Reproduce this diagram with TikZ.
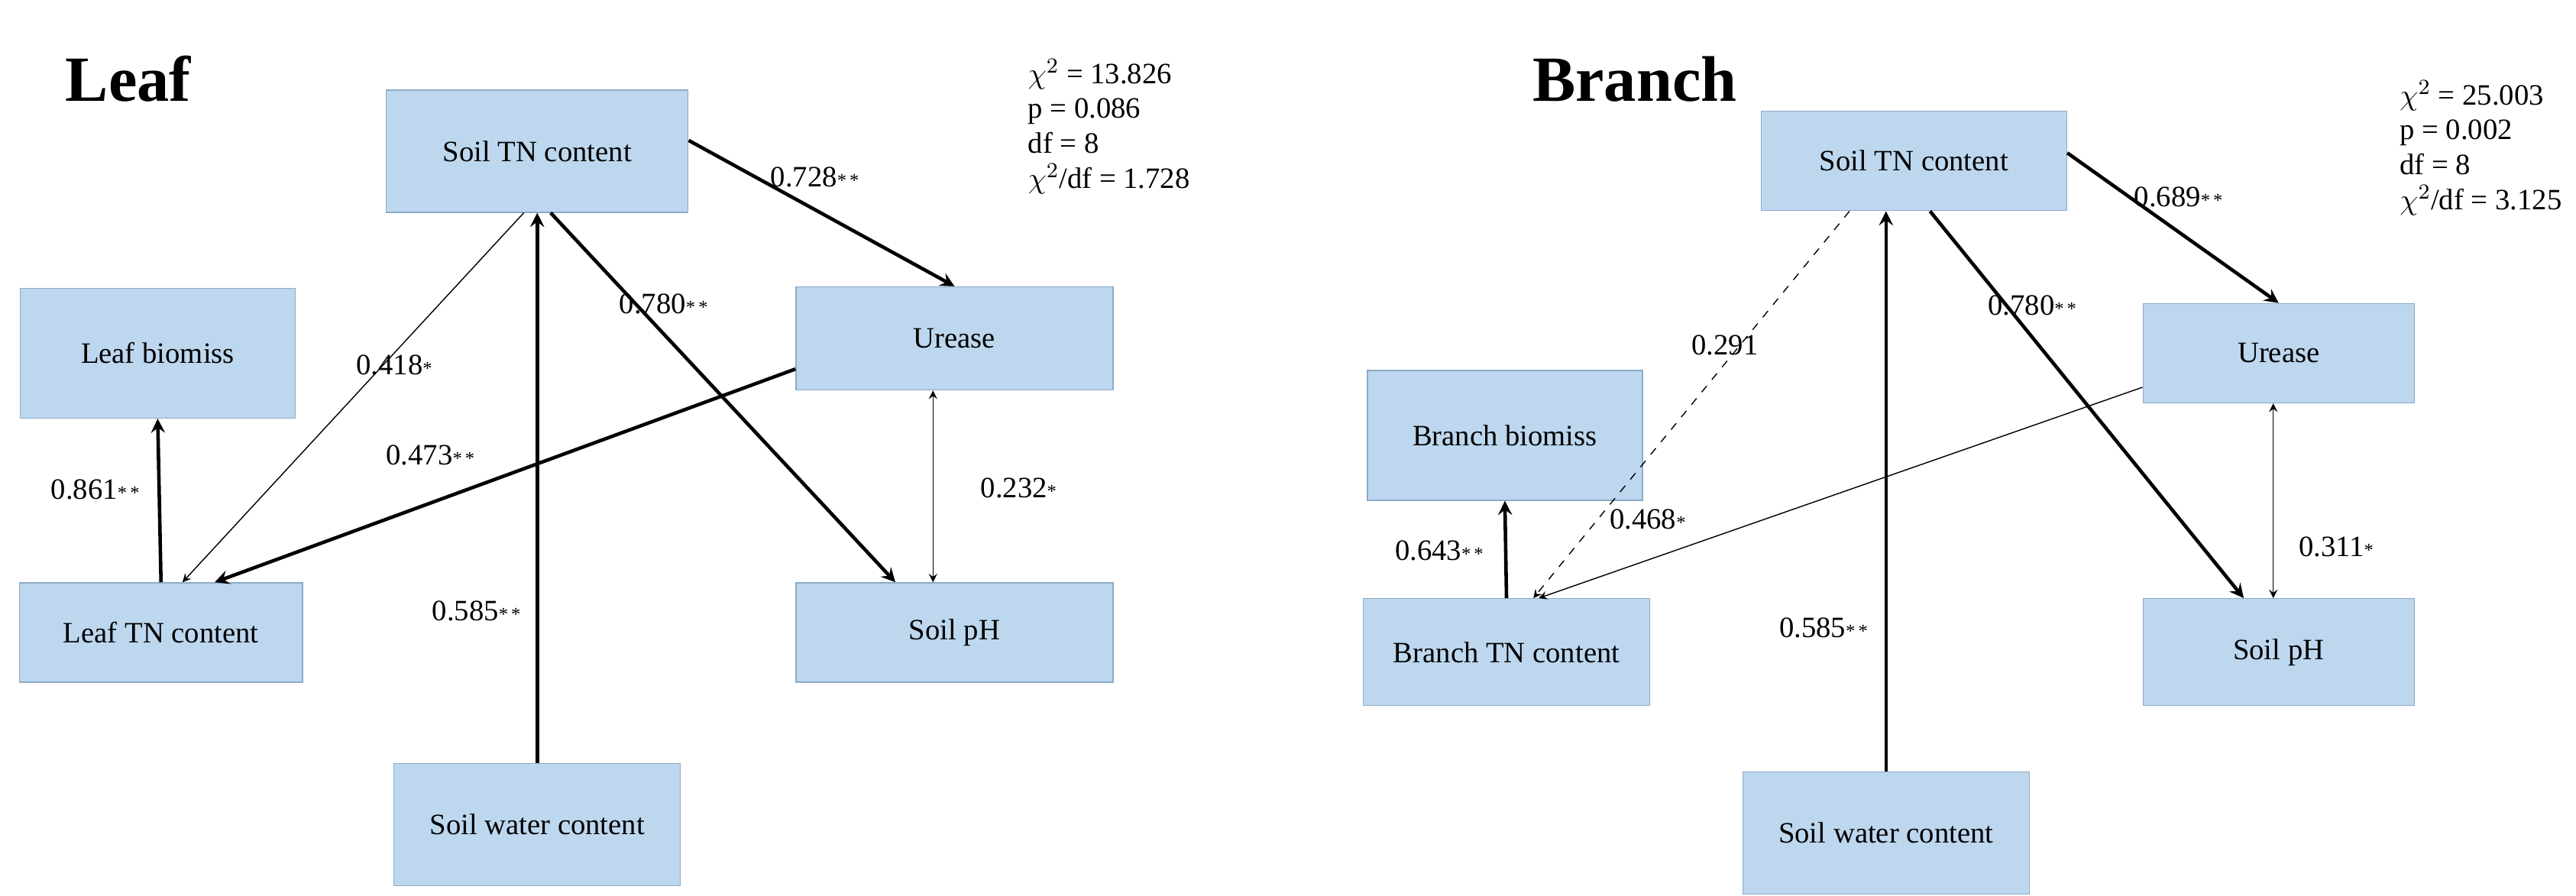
\documentclass[tikz,border=0pt]{standalone}
\usepackage{fontspec}
\setmainfont{Liberation Serif}
\usepackage{tikz}
\definecolor{boxfill}{RGB}{189,215,238}
\definecolor{boxline}{RGB}{140,170,200}
\tikzset{
  box/.style={shape=rectangle, fill=boxfill, draw=boxline, inner sep=0pt, font=\fontsize{11}{13}\selectfont},
  lab/.style={font=\fontsize{11}{13}\selectfont},
  strong/.style={line width=1.3pt, -stealth},
  weak/.style={line width=0.4pt, -stealth},
}
\newcommand{\st}{{\scriptsize*\,*}}
\newcommand{\so}{{\scriptsize*}}
\begin{document}
\begin{tikzpicture}[x=0.0215cm, y=-0.0215cm]
    \useasboundingbox (0,0) rectangle (1568,545);

    % Leaf
    \node[font=\bfseries\fontsize{24}{28}\selectfont] (LT) at (78,48) {Leaf};
    \node[box, minimum width=3.95cm, minimum height=1.6cm] (L1) at (327,92) {Soil TN content};
    \node[box, minimum width=3.6cm, minimum height=1.7cm] (L2) at (96,215) {Leaf biomiss};
    \node[box, minimum width=4.15cm, minimum height=1.35cm] (L3) at (581,206) {Urease};
    \node[box, minimum width=3.7cm, minimum height=1.3cm] (L4) at (98,385) {Leaf TN content};
    \node[box, minimum width=4.15cm, minimum height=1.3cm] (L5) at (581,385) {Soil pH};
    \node[box, minimum width=3.75cm, minimum height=1.6cm] (L6) at (327,502) {Soil water content};
    \node[lab, align=left, anchor=north west] (LS) at (620,30) {$\chi^2$ = 13.826\\p = 0.086\\df = 8\\$\chi^2$/df = 1.728};

    \draw[strong] ([yshift=4]L1.east) -- (L3.north);
    \draw[strong] ([xshift=5]L1.south) -- ([xshift=-22]L5.north);
    \draw[weak] ([xshift=-5]L1.south) -- ([xshift=8]L4.north);
    \draw[strong] (L6.north) -- (L1.south);
    \draw[strong] ([yshift=8]L3.south west) -- ([xshift=20]L4.north);
    \draw[strong] (L4.north) -- (L2.south);
    \draw[weak, stealth-stealth] ([xshift=-8]L3.south) -- ([xshift=-8]L5.north);

    \node[lab] (LA) at (496,108) {0.728\st};
    \node[lab] (LB) at (404,185) {0.780\st};
    \node[lab] (LC) at (240,222) {0.418\so};
    \node[lab] (LD) at (290,372) {0.585\st};
    \node[lab] (LE) at (262,277) {0.473\st};
    \node[lab] (LF) at (58,298) {0.861\st};
    \node[lab] (LG) at (620,297) {0.232\so};

    % Branch
    \node[font=\bfseries\fontsize{24}{28}\selectfont] (BT) at (995,48) {Branch};
    \node[box, minimum width=4cm, minimum height=1.3cm] (B1) at (1165,98) {Soil TN content};
    \node[box, minimum width=3.6cm, minimum height=1.7cm] (B2) at (916,265) {Branch biomiss};
    \node[box, minimum width=3.55cm, minimum height=1.3cm] (B3) at (1387,215) {Urease};
    \node[box, minimum width=3.75cm, minimum height=1.4cm] (B4) at (917,397) {Branch TN content};
    \node[box, minimum width=3.55cm, minimum height=1.4cm] (B5) at (1387,397) {Soil pH};
    \node[box, minimum width=3.75cm, minimum height=1.6cm] (B6) at (1148,507) {Soil water content};
    \node[lab, align=left, anchor=north west] (BS) at (1455,43) {$\chi^2$ = 25.003\\p = 0.002\\df = 8\\$\chi^2$/df = 3.125};

    \draw[strong] ([yshift=3]B1.east) -- (B3.north);
    \draw[strong] ([xshift=6]B1.south) -- ([xshift=-13]B5.north);
    \draw[weak, dashed] ([xshift=-24]B1.south) -- ([xshift=10]B4.north);
    \draw[strong] (B6.north) -- (B6.north |- B1.south);
    \draw[weak] ([yshift=6]B3.south west) -- ([xshift=12]B4.north);
    \draw[strong] (B4.north) -- (B2.south);
    \draw[weak, stealth-stealth] ([xshift=-2]B3.south) -- ([xshift=-2]B5.north);

    \node[lab] (BA) at (1326,120) {0.689\st};
    \node[lab] (BB) at (1237,186) {0.780\st};
    \node[lab] (BC) at (1050,210) {0.291};
    \node[lab] (BD) at (1110,382) {0.585\st};
    \node[lab] (BE) at (1003,316) {0.468\so};
    \node[lab] (BF) at (876,335) {0.643\st};
    \node[lab] (BG) at (1422,333) {0.311\so};
\end{tikzpicture}
\end{document}
